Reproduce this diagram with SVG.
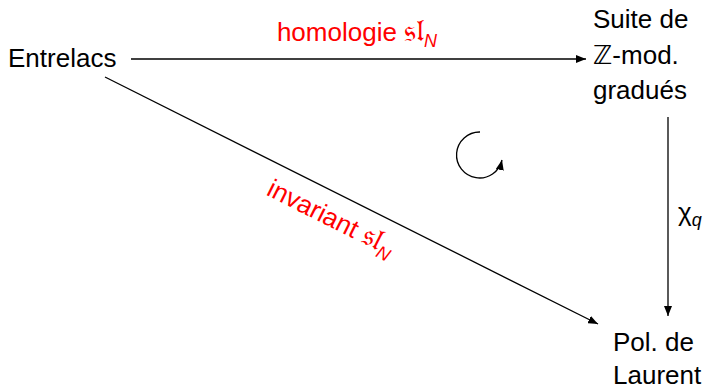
<svg xmlns="http://www.w3.org/2000/svg" width="710" height="390" viewBox="0 0 710 390">
<style>
text{font-family:"Liberation Sans","DejaVu Sans",sans-serif;font-size:26px;fill:#000}
.lbl{fill:#ff0000}
.edge{stroke:#000;stroke-width:1.3;fill:none}
.it{font-style:italic}
.fr{font-size:31px}
</style>
<defs>
<marker id="ah" viewBox="0 0 10 8" refX="10" refY="4" markerWidth="10" markerHeight="8" markerUnits="userSpaceOnUse" orient="auto">
<path d="M0,0 L10,4 L0,8 Z" fill="#000"/>
</marker>
</defs>
<g id="n-entrelacs"><text x="8" y="67">Entrelacs</text></g>
<g id="n-suite">
<text x="593" y="28">Suite de</text>
<text x="593" y="64">ℤ-mod.</text>
<text x="593" y="99">gradués</text>
</g>
<g id="n-laurent">
<text x="613" y="351">Pol. de</text>
<text x="613" y="384">Laurent</text>
</g>
<g id="connectors">
<line class="edge" x1="131" y1="59" x2="586" y2="59" marker-end="url(#ah)"/>
<line class="edge" x1="668" y1="117" x2="668" y2="316" marker-end="url(#ah)"/>
<line class="edge" x1="105" y1="77" x2="598" y2="324" marker-end="url(#ah)"/>
<path class="edge" d="M480,132 A23,23 0 1,0 502,160" marker-end="url(#ah)"/>
<text class="lbl" x="357" y="41" text-anchor="middle">homologie <tspan class="fr">𝔰𝔩</tspan><tspan class="it" font-size="18" dy="6">N</tspan></text>
<text x="678" y="221" font-size="28">χ<tspan class="it" font-size="18" dy="5">q</tspan></text>
<g transform="translate(342,196) rotate(26.6)">
<text class="lbl" x="0" y="33" text-anchor="middle">invariant <tspan class="fr">𝔰𝔩</tspan><tspan class="it" font-size="18" dy="6">N</tspan></text>
</g>
</g>
</svg>
